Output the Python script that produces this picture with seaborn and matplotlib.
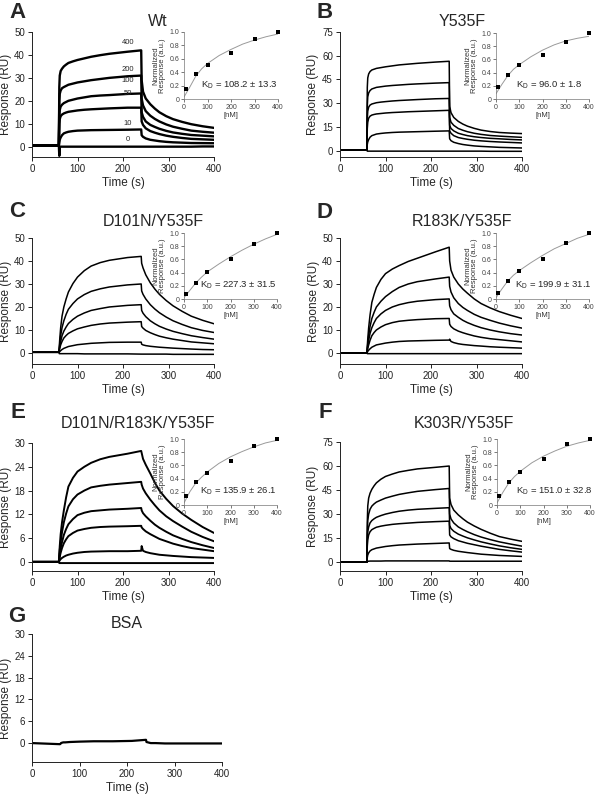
import matplotlib
matplotlib.use("Agg")
import matplotlib.pyplot as plt
import seaborn as sns
import pandas as pd

# ---------------- data ----------------
# time grid (s) at which each sensorgram was read off the picture
t_read = [0, 59,
          60, 61, 63, 66, 70, 75, 80, 90, 100, 115, 130, 150, 170, 210, 240,
          241, 244, 250, 260, 270, 280, 295, 310, 330, 350, 375, 400]

# Panel A: Wt (curves labelled 400, 200, 100, 50, 10, 0 nM)
wt_conc_labels = ["400", "200", "100", "50", "10", "0"]
wt_curves = [
    [0.5, 0.5, 26, 31, 33, 34, 35, 35.8, 36.5, 37.2, 37.8, 38.5, 39.2, 39.9, 40.5, 41.4, 42,
     29, 24, 21, 18.5, 16.6, 15, 13.3, 12, 10.8, 9.8, 8.9, 8.2],
    [0.5, 0.5, 20, 23, 24.5, 25.5, 26, 26.5, 27, 27.5, 28, 28.5, 29, 29.5, 30, 30.7, 31,
     21, 18, 15.5, 13.5, 12.1, 11, 9.7, 8.7, 7.8, 7, 6.5, 6.1],
    [0.5, 0.5, 14, 16, 17.5, 18.3, 19, 19.5, 20, 20.5, 21, 21.5, 22, 22.3, 22.5, 23, 23.2,
     15, 13, 11, 9.5, 8.6, 7.8, 6.9, 6.2, 5.6, 5.1, 4.8, 4.5],
    [0.5, 0.5, 10, 12, 13.3, 14, 14.5, 14.9, 15.2, 15.5, 15.8, 16.1, 16.3, 16.5, 16.7, 17, 17,
     11, 9.5, 8, 6.8, 6.1, 5.5, 4.8, 4.3, 3.8, 3.4, 3.2, 3.0],
    [0.5, 0.5, 2, 3, 4, 5, 5.8, 6.2, 6.5, 6.8, 7, 7.1, 7.2, 7.25, 7.3, 7.4, 7.5,
     5, 4.3, 3.6, 3, 2.7, 2.4, 2.1, 1.9, 1.75, 1.6, 1.55, 1.5],
    [0.5, 0.5, -4, 0, 0, 0, 0, 0, 0, 0, 0, 0, 0, 0, 0, 0, 0,
     0, 0, 0, 0, 0, 0, 0, 0, 0, 0, 0.1, 0.1],
]
# Panel B: Y535F
y535f_curves = [
    [0.5, 0.5, 40, 46, 48.5, 50, 51, 51.5, 52, 52.5, 53, 53.6, 54.2, 54.7, 55.2, 56, 56.5,
     28, 24, 21, 18.5, 16.8, 15.5, 14.1, 13, 12.1, 11.5, 11.1, 10.8],
    [0.5, 0.5, 28, 34, 36.5, 38, 39, 39.5, 40, 40.4, 40.8, 41.2, 41.5, 41.9, 42.2, 42.7, 43,
     21, 18, 16, 14, 12.9, 12, 11, 10.3, 9.6, 9.2, 8.8, 8.4],
    [0.5, 0.5, 20, 25, 27.5, 28.8, 29.5, 29.9, 30.3, 30.7, 31, 31.4, 31.7, 32, 32.3, 32.8, 33,
     16, 14, 12.5, 11, 10.2, 9.5, 8.8, 8.3, 7.8, 7.5, 7.1, 6.8],
    [0.5, 0.5, 14, 18, 20.5, 21.8, 22.5, 22.9, 23.2, 23.5, 23.8, 24.1, 24.3, 24.6, 24.8, 25.2, 25.5,
     12.5, 11, 9.5, 8.3, 7.7, 7.2, 6.6, 6.2, 5.8, 5.5, 5.2, 4.9],
    [0.5, 0.5, 4, 5.5, 7, 8.5, 9.5, 10, 10.5, 10.9, 11.2, 11.5, 11.7, 11.85, 12, 12.3, 12.5,
     7.5, 6.3, 5.3, 4.5, 3.9, 3.5, 3, 2.7, 2.4, 2.1, 1.9, 1.7],
    [0.5, 0.5, -0.3, -0.3, -0.3, -0.3, -0.3, -0.3, -0.3, -0.3, -0.3, -0.3, -0.3, -0.3, -0.3, -0.3, -0.3,
     -0.3, -0.3, -0.3, -0.3, -0.3, -0.3, -0.3, -0.3, -0.4, -0.4, -0.4, -0.4],
]
# Panel C: D101N/Y535F
d101n_curves = [
    [0.3, 0.3, 3, 6, 11, 16, 20, 23.5, 26.5, 30.2, 33, 35.8, 37.8, 39.3, 40.3, 41.5, 42,
     39, 37, 34, 30.5, 27.8, 25.5, 22.8, 20.5, 18.1, 16, 14.2, 12.7],
    [0.3, 0.3, 2, 4, 7.5, 11, 14, 16.8, 19, 21.5, 23.5, 25.4, 26.8, 27.9, 28.7, 29.6, 30,
     27, 25.5, 23.5, 21, 19.1, 17.5, 15.6, 14, 12.4, 11, 9.8, 8.9],
    [0.3, 0.3, 1.5, 3, 5, 7.5, 9.5, 11.3, 12.8, 14.6, 16, 17.4, 18.5, 19.3, 20, 20.7, 21,
     18.5, 17.3, 15.8, 14, 12.7, 11.6, 10.4, 9.4, 8.4, 7.5, 6.7, 6],
    [0.3, 0.3, 1, 2, 3.5, 5, 6.5, 7.6, 8.5, 9.6, 10.5, 11.3, 12, 12.6, 13, 13.4, 13.6,
     11.5, 10.8, 9.8, 8.8, 8, 7.3, 6.6, 6, 5.4, 4.8, 4.4, 4],
    [0.3, 0.3, 0.3, 0.6, 1, 1.5, 2, 2.4, 2.8, 3.2, 3.6, 3.9, 4.2, 4.4, 4.6, 4.7, 4.7,
     3.8, 3.5, 3.2, 2.9, 2.7, 2.5, 2.3, 2.1, 1.9, 1.7, 1.5, 1.4],
    [0.3, 0.3, -0.3, -0.3, -0.3, -0.3, -0.3, -0.3, -0.3, -0.3, -0.3, -0.4, -0.4, -0.4, -0.4, -0.4, -0.5,
     -0.5, -0.5, -0.5, -0.5, -0.5, -0.5, -0.5, -0.6, -0.6, -0.6, -0.6, -0.6],
]
# Panel D: R183K/Y535F
r183k_curves = [
    [0.0, 0.0, 3, 6, 11, 16.5, 22, 25.5, 28.5, 32, 34.5, 36.5, 38, 39.8, 41.2, 44, 46,
     40, 36, 33, 30, 27.8, 26, 23.5, 21.5, 19.6, 18, 16.4, 15],
    [0.0, 0.0, 2, 4, 7.5, 11.5, 15, 17.7, 20, 22.5, 24.5, 26.7, 28.5, 30, 31, 32.2, 33,
     29, 26.5, 24, 21.5, 19.8, 18.5, 16.8, 15.5, 14.2, 13, 11.8, 10.8],
    [0.0, 0.0, 1.5, 3, 5.5, 8.5, 11, 13.2, 15, 17, 18.5, 20, 21, 21.9, 22.5, 23.2, 23.5,
     20.5, 18.8, 17, 15.5, 14.2, 13.2, 12, 11, 10, 9.2, 8.4, 7.8],
    [0.0, 0.0, 1, 2, 3.5, 5.5, 7.5, 8.9, 10, 11.3, 12.3, 13.2, 13.8, 14.2, 14.5, 14.9, 15,
     12.5, 11.5, 10.5, 9.5, 8.8, 8.2, 7.4, 6.8, 6.2, 5.8, 5.3, 4.8],
    [0.0, 0.0, 0.3, 0.7, 1.2, 1.8, 2.5, 3, 3.5, 3.9, 4.3, 4.7, 5, 5.2, 5.3, 5.5, 5.6,
     6, 5, 4.5, 4, 3.7, 3.5, 3.2, 3, 2.7, 2.5, 2.3, 2.1],
    [0.0, 0.0, -0.3, -0.3, -0.3, -0.3, -0.3, -0.3, -0.3, -0.3, -0.3, -0.3, -0.3, -0.3, -0.3, -0.3, -0.3,
     -0.3, -0.3, -0.3, -0.3, -0.3, -0.3, -0.3, -0.3, -0.3, -0.3, -0.3, -0.3],
]
# Panel E: D101N/R183K/Y535F
triple_curves = [
    [0.0, 0.0, 2, 4, 7, 10, 13, 16.3, 19, 21.2, 22.8, 24, 25, 25.9, 26.5, 27.3, 28,
     27.5, 26, 24.5, 22.3, 20, 18, 15.9, 14.1, 12.2, 10.6, 8.8, 7.3],
    [0.0, 0.0, 1.5, 3, 5, 7.5, 10, 12.2, 14, 15.8, 17, 18, 18.8, 19.2, 19.5, 19.9, 20.2,
     19.5, 18.5, 17.3, 15.7, 14.3, 13, 11.5, 10.3, 8.9, 7.6, 6.3, 5.2],
    [0.0, 0.0, 1, 2, 3.5, 5, 6.8, 8.3, 9.5, 10.8, 11.8, 12.4, 12.8, 13, 13.2, 13.4, 13.6,
     13, 12.3, 11.5, 10.4, 9.4, 8.6, 7.6, 6.7, 5.8, 5, 4.2, 3.5],
    [0.0, 0.0, 0.7, 1.3, 2.3, 3.5, 4.7, 5.7, 6.5, 7.3, 7.9, 8.3, 8.6, 8.8, 8.9, 9, 9.1,
     8.7, 8.3, 7.7, 7, 6.4, 5.8, 5.2, 4.6, 4, 3.5, 3.1, 2.7],
    [0.0, 0.0, 0.2, 0.4, 0.7, 1, 1.3, 1.6, 1.8, 2.1, 2.3, 2.5, 2.6, 2.65, 2.7, 2.7, 2.8,
     4, 2.8, 2.5, 2.2, 2, 1.8, 1.65, 1.5, 1.35, 1.2, 1.1, 1.0],
    [0.0, 0.0, -0.3, -0.3, -0.3, -0.3, -0.3, -0.3, -0.3, -0.3, -0.3, -0.3, -0.3, -0.3, -0.3, -0.3, -0.3,
     -0.3, -0.3, -0.3, -0.3, -0.3, -0.3, -0.3, -0.3, -0.3, -0.3, -0.3, -0.3],
]
# Panel F: K303R/Y535F
k303r_curves = [
    [0.0, 0.0, 25, 35, 40, 43, 45.5, 47.7, 49.5, 51.8, 53.5, 55, 56.3, 57.3, 58.2, 59.2, 60,
     40, 36, 32.5, 29.5, 27.1, 25, 22.6, 20.5, 18.1, 16, 14.4, 13],
    [0.0, 0.0, 18, 26, 30, 33, 35, 36.4, 37.5, 38.8, 40, 41.2, 42.3, 43.3, 44.2, 45.3, 46,
     30, 27, 24.5, 22, 20.4, 19, 17.2, 15.7, 14.1, 12.7, 11.3, 10],
    [0.0, 0.0, 13, 19, 22, 24.5, 26, 27.1, 28, 29.1, 30, 31, 31.8, 32.5, 33, 33.6, 34,
     23, 21, 19.3, 17.5, 16.3, 15.2, 13.9, 12.7, 11.4, 10.2, 9, 8],
    [0.0, 0.0, 10, 14, 17, 19, 20.3, 21.1, 21.8, 22.5, 23, 23.6, 24, 24.4, 24.8, 25.3, 25.6,
     17, 15.8, 14.7, 13.4, 12.6, 11.8, 10.9, 10, 9, 8, 7.1, 6.3],
    [0.0, 0.0, 3, 4.5, 5.8, 7, 7.8, 8.3, 8.8, 9.3, 9.8, 10.3, 10.7, 11, 11.3, 11.7, 12,
     8.5, 8, 7.4, 6.8, 6.4, 6, 5.5, 5, 4.6, 4.2, 3.9, 3.6],
    [0.0, 0.0, 0.6, 0.6, 0.6, 0.7, 0.7, 0.7, 0.7, 0.7, 0.8, 0.8, 0.8, 0.8, 0.8, 0.8, 0.8,
     0.6, 0.6, 0.6, 0.6, 0.6, 0.6, 0.6, 0.6, 0.6, 0.6, 0.6, 0.6],
]
# Panel G: BSA
bsa_curve = [0.0, -0.3, -0.2, 0.0, 0.1, 0.2, 0.2, 0.25, 0.3, 0.35, 0.4, 0.45, 0.5, 0.5, 0.5, 0.6, 0.9,
             0.3, 0.2, 0.0, 0.0, -0.05, -0.1, -0.1, -0.1, -0.1, -0.1, -0.1, -0.1]

# Insets: normalized response vs concentration
conc_nm = [10, 50, 100, 200, 300, 400]
norm_wt = [0.15, 0.38, 0.51, 0.68, 0.90, 1.00]
norm_y535f = [0.18, 0.37, 0.51, 0.66, 0.87, 1.00]
norm_d101n = [0.07, 0.25, 0.41, 0.60, 0.84, 1.00]
norm_r183k = [0.09, 0.28, 0.43, 0.61, 0.85, 1.00]
norm_triple = [0.13, 0.35, 0.49, 0.67, 0.90, 1.00]
norm_k303r = [0.13, 0.35, 0.50, 0.69, 0.93, 1.00]
# fitted curves read at these concentrations
fit_conc = [0, 25, 50, 75, 100, 150, 200, 250, 300, 350, 400]
fit_wt = [0.03, 0.18, 0.34, 0.45, 0.53, 0.65, 0.74, 0.82, 0.88, 0.93, 0.97]
fit_y535f = [0.08, 0.22, 0.35, 0.45, 0.52, 0.64, 0.74, 0.82, 0.88, 0.92, 0.95]
fit_d101n = [0.02, 0.13, 0.24, 0.33, 0.41, 0.53, 0.64, 0.74, 0.83, 0.91, 0.98]
fit_r183k = [0.02, 0.15, 0.27, 0.36, 0.43, 0.55, 0.66, 0.76, 0.84, 0.92, 0.98]
fit_triple = [0.03, 0.20, 0.33, 0.42, 0.50, 0.63, 0.73, 0.81, 0.88, 0.94, 0.98]
fit_k303r = [0.03, 0.19, 0.33, 0.43, 0.51, 0.64, 0.74, 0.82, 0.89, 0.94, 0.98]

kd_texts = ["108.2 ± 13.3", "96.0 ± 1.8", "227.3 ± 31.5", "199.9 ± 31.1", "135.9 ± 26.1", "151.0 ± 32.8"]
titles = ["Wt", "Y535F", "D101N/Y535F", "R183K/Y535F", "D101N/R183K/Y535F", "K303R/Y535F", "BSA"]
letters = ["A", "B", "C", "D", "E", "F", "G"]

# ---------------- style ----------------
sns.set_theme(style="ticks")
plt.rcParams["font.family"] = ["Liberation Sans", "DejaVu Sans"]
plt.rcParams["mathtext.fontset"] = "custom"
plt.rcParams["mathtext.rm"] = "Liberation Sans"
plt.rcParams["mathtext.it"] = "Liberation Sans"

W, H = 601, 797
fig = plt.figure(figsize=(W / 100, H / 100), dpi=100)
fig.patch.set_facecolor("white")


def rect(l, r, t, b):
    return [l / W, 1 - b / H, (r - l) / W, (b - t) / H]


main_rects = [(32, 214, 32, 157), (340, 522, 32, 157), (32, 214, 238, 364), (340, 522, 238, 364),
              (32, 214, 443, 571), (340, 522, 442, 571), (32, 222, 634, 762)]
ylims = [(-4.5, 50), (-4, 75), (-4.8, 50), (-4.8, 50), (-2.3, 30), (-5.5, 75), (-5.2, 30)]
yticks = [range(0, 51, 10), range(0, 76, 15), range(0, 51, 10), range(0, 51, 10),
          range(0, 31, 6), range(0, 76, 15), range(0, 31, 6)]
lws = [1.7, 1.1, 1.1, 1.1, 1.4, 1.1, 1.6]
inset_rects = [(184, 278, 32, 99), (496, 589, 33, 99), (184, 277, 233, 299),
               (496, 589, 233, 299), (184, 277, 439, 505), (497, 590, 439, 505)]
kd_x = [1.0, 0.93, 1.0, 1.03, 1.0, 1.03]
title_pos = [(158, 22), (462, 22), (153, 222), (462, 222), (138, 423), (464, 423), (127, 624)]
letter_pos = [(18, 13), (325, 13), (17, 212), (325, 213), (18, 412), (325, 412), (17, 616)]
wt_label_y = [45.3, 33.5, 29.0, 23.3, 9.9, 3.3]

panel_curves = [wt_curves, y535f_curves, d101n_curves, r183k_curves, triple_curves, k303r_curves, [bsa_curve]]
norm_sets = [norm_wt, norm_y535f, norm_d101n, norm_r183k, norm_triple, norm_k303r]
fit_sets = [fit_wt, fit_y535f, fit_d101n, fit_r183k, fit_triple, fit_k303r]

for curves in panel_curves:
    for c in curves:
        assert len(c) == len(t_read), len(c)

for i in range(7):
    ax = fig.add_axes(rect(*main_rects[i]))
    ax.set_facecolor("white")
    for curve in panel_curves[i]:
        df = pd.DataFrame({"t": t_read, "r": curve})
        sns.lineplot(data=df, x="t", y="r", ax=ax, color="black", lw=lws[i],
                     estimator=None, sort=False)
    ax.set_xlim(0, 400)
    ax.set_ylim(*ylims[i])
    ax.set_xticks(range(0, 401, 100))
    ax.set_yticks(list(yticks[i]))
    ax.tick_params(axis="both", labelsize=7, length=3, width=0.7, pad=2, colors="#222222")
    for s in ["top", "right"]:
        ax.spines[s].set_visible(False)
    for s in ["left", "bottom"]:
        ax.spines[s].set_linewidth(0.7)
        ax.spines[s].set_color("#222222")
    ax.set_xlabel("Time (s)", fontsize=8.5, labelpad=2)
    ax.set_ylabel("Response (RU)", fontsize=8.5, labelpad=2)
    ax.grid(False)
    fig.text(title_pos[i][0] / W, 1 - title_pos[i][1] / H, titles[i], fontsize=11.5,
             ha="center", va="center")
    fig.text(letter_pos[i][0] / W, 1 - letter_pos[i][1] / H, letters[i], fontsize=16,
             fontweight="bold", ha="center", va="center")
    if i == 0:
        for lab, yy in zip(wt_conc_labels, wt_label_y):
            ax.text(211, yy, lab, fontsize=5.5, ha="center", va="center")

    if i < 6:
        ins = fig.add_axes(rect(*inset_rects[i]))
        ins.set_facecolor("none")
        sns.lineplot(x=fit_conc, y=fit_sets[i], ax=ins, color="#9a9a9a", lw=0.7,
                     estimator=None, sort=False)
        sns.scatterplot(x=conc_nm, y=norm_sets[i], ax=ins, color="black", marker="s",
                        s=5, linewidth=0, clip_on=False, zorder=5)
        ins.set_xlim(0, 400)
        ins.set_ylim(0, 1.0)
        ins.set_xticks(range(0, 401, 100))
        ins.set_yticks([0, 0.2, 0.4, 0.6, 0.8, 1.0])
        ins.set_yticklabels(["0", "0.2", "0.4", "0.6", "0.8", "1.0"])
        ins.tick_params(axis="both", labelsize=5, length=2, width=0.5, pad=1.5,
                        colors="#444444")
        for s in ["top", "right"]:
            ins.spines[s].set_visible(False)
        for s in ["left", "bottom"]:
            ins.spines[s].set_linewidth(0.5)
            ins.spines[s].set_color("#777777")
        ins.set_xlabel("[nM]", fontsize=5.5, labelpad=0.5, color="#333333")
        ins.set_ylabel("Normalized\nResponse (a.u.)", fontsize=5.5, labelpad=2,
                       color="#333333", linespacing=1.0)
        ins.grid(False)
        ins.text(kd_x[i], 0.21, "K$_\\mathrm{D}$ = " + kd_texts[i], transform=ins.transAxes,
                 fontsize=6.8, ha="right", va="center")

fig.savefig("out.png", dpi=100, facecolor="white")
